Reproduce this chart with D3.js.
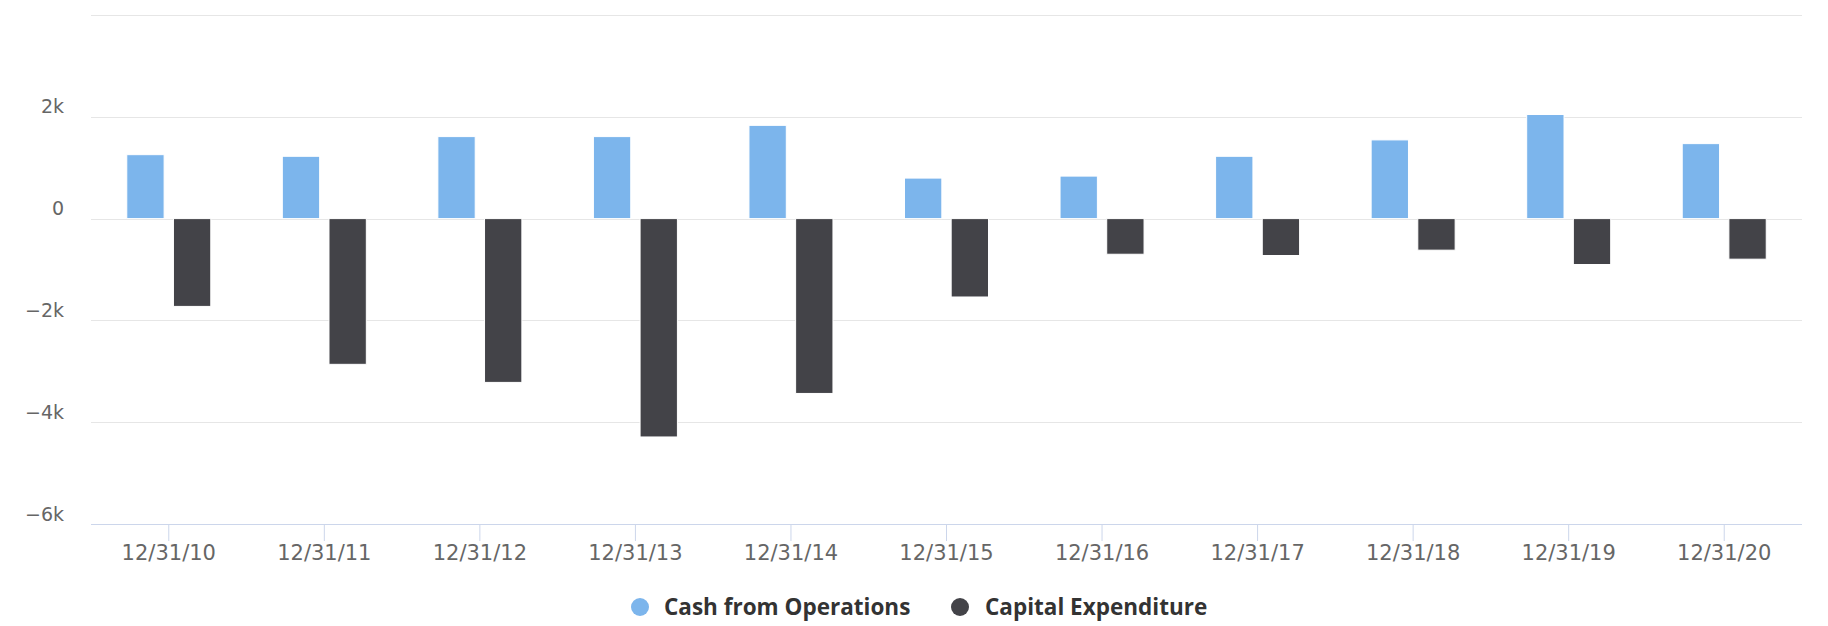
<!DOCTYPE html>
<html>
<head>
<meta charset="utf-8">
<script src="https://cdnjs.cloudflare.com/ajax/libs/d3/7.8.5/d3.min.js"></script>
<style>
  html, body { margin: 0; padding: 0; background: #fff; }
  svg { display: block; }
</style>
</head>
<body>
<svg id="chart" width="1828" height="626"></svg>
<script>
// ---- data ----
const categories = ["12/31/10","12/31/11","12/31/12","12/31/13","12/31/14","12/31/15","12/31/16","12/31/17","12/31/18","12/31/19","12/31/20"];
const cashFromOperations = [1256, 1224, 1611, 1611, 1832, 796, 835, 1224, 1546, 2045, 1473];
const capitalExpenditure = [-1725, -2863, -3218, -4290, -3435, -1540, -700, -725, -620, -902, -797];
const seriesNames = ["Cash from Operations", "Capital Expenditure"];
const seriesColors = ["#7cb5ec", "#434348"];
const gridTicks = [4000, 2000, 0, -2000, -4000, -6000];
const labelTicks = [2000, 0, -2000, -4000, -6000];
const tickLabels = ["2k", "0", "\u22122k", "\u22124k", "\u22126k"];

// ---- layout ----
const plot = { left: 91, right: 1802, top: 15, bottom: 524 };
const svg = d3.select("#chart");
const axisFont = "'DejaVu Sans', sans-serif";
const legendFont = "'Open Sans', 'DejaVu Sans', sans-serif";

const x = d3.scaleBand().domain(categories).range([plot.left, plot.right]).paddingInner(0).paddingOuter(0);
// group padding 0.2, point padding 0.1
const groupPad = 0.2 * x.bandwidth();
const pointW = (x.bandwidth() - 2 * groupPad) / 2;
const barW = pointW * 0.8;

const y = d3.scaleLinear().domain([-6000, 4000]).range([plot.bottom, plot.top]);

// grid lines
svg.append("g").selectAll("line").data(gridTicks).join("line")
  .attr("x1", plot.left).attr("x2", plot.right)
  .attr("y1", d => Math.round(y(d)) + 0.5).attr("y2", d => Math.round(y(d)) + 0.5)
  .attr("stroke", "#e6e6e6").attr("stroke-width", 1);

// y axis labels
const yAxis = d3.axisLeft(y).tickValues(labelTicks).tickSize(0).tickPadding(0)
  .tickFormat((d, i) => tickLabels[i]);
const gy = svg.append("g").attr("transform", `translate(${64},0)`).call(yAxis);
gy.select(".domain").remove();
gy.selectAll("text").attr("font-family", axisFont).attr("font-size", 19).attr("fill", "#666")
  .attr("dy", null).attr("y", -4).attr("dominant-baseline", "auto");

// bars
const allSeries = [cashFromOperations, capitalExpenditure];
allSeries.forEach((vals, si) => {
  svg.append("g").selectAll("rect").data(vals).join("rect")
    .attr("x", (d, i) => x(categories[i]) + groupPad + si * pointW + pointW * 0.1)
    .attr("width", barW)
    .attr("y", d => y(Math.max(0, d)))
    .attr("height", d => Math.abs(y(d) - y(0)))
    .attr("fill", seriesColors[si])
    .attr("stroke", "#ffffff").attr("stroke-width", 1);
});

// x axis
const xAxis = d3.axisBottom(x).tickSize(16).tickPadding(4);
const gx = svg.append("g").attr("transform", `translate(0,${plot.bottom})`).call(xAxis);
gx.select(".domain").attr("stroke", "#ccd6eb").attr("stroke-width", 1)
  .attr("d", `M${plot.left},0.5H${plot.right}`);
gx.selectAll(".tick line").attr("stroke", "#ccd6eb").attr("y2", 17);
gx.selectAll(".tick text").attr("font-family", axisFont).attr("font-size", 21).attr("fill", "#666")
  .attr("dy", null).attr("y", 36);

// legend
const legendItems = [
  { name: seriesNames[0], color: seriesColors[0], cx: 640, tx: 664 },
  { name: seriesNames[1], color: seriesColors[1], cx: 960, tx: 985 }
];
const lg = svg.append("g");
legendItems.forEach(it => {
  lg.append("circle").attr("cx", it.cx).attr("cy", 607).attr("r", 9).attr("fill", it.color);
  lg.append("text").attr("x", it.tx).attr("y", 615).text(it.name)
    .attr("font-family", legendFont).attr("font-weight", "bold").attr("font-size", 22.5).attr("fill", "#333");
});
</script>
</body>
</html>
